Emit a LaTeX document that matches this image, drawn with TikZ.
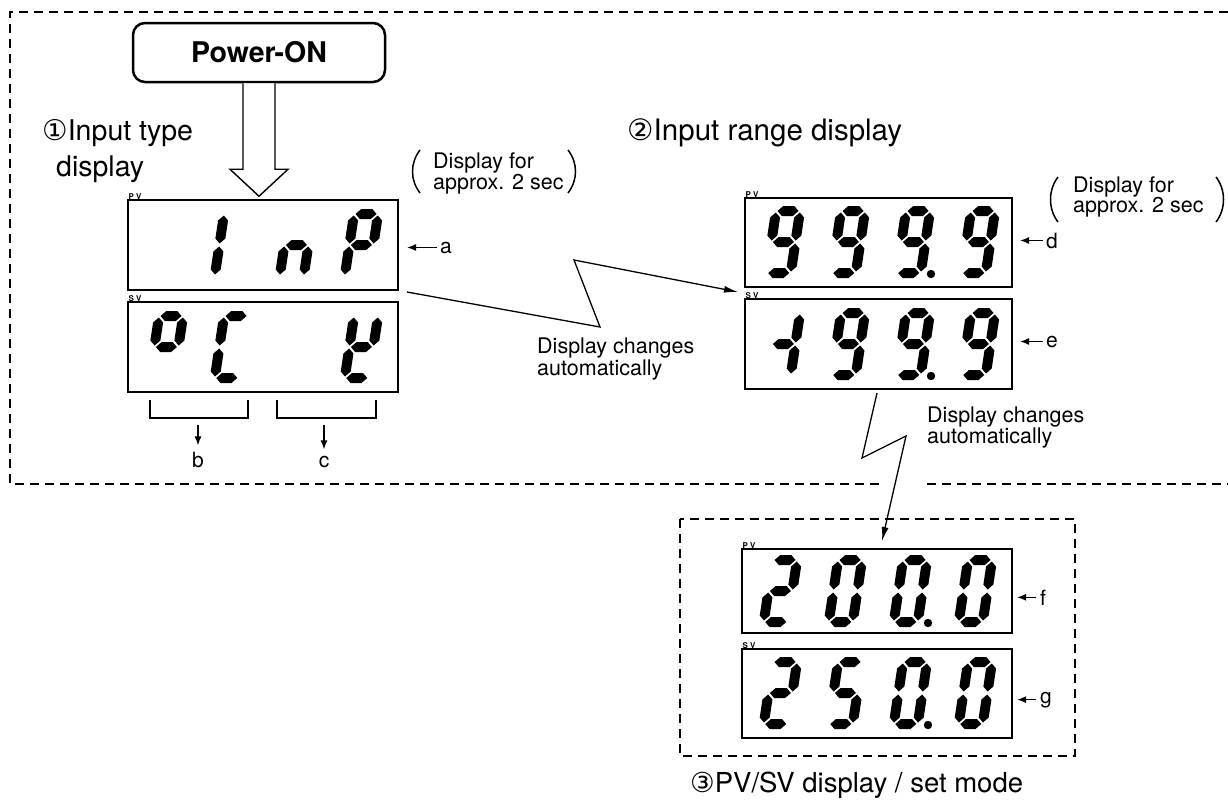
\documentclass[tikz,border=0pt]{standalone}
\usepackage{fontspec}
\setmainfont{TeX Gyre Heros}
\newfontfamily\dvs{DejaVu Sans}
\usetikzlibrary{arrows.meta,calc}
\newcommand\Sega{\fill (6.5,5) -- (11.5,0) -- (22.5,0) -- (27.5,5) -- (22.5,10) -- (11.5,10) -- cycle;}
\newcommand\Segg{\fill (6.5,36) -- (11.5,31) -- (22.5,31) -- (27.5,36) -- (22.5,41) -- (11.5,41) -- cycle;}
\newcommand\Segd{\fill (6.5,67) -- (11.5,62) -- (22.5,62) -- (27.5,67) -- (22.5,72) -- (11.5,72) -- cycle;}
\newcommand\Segf{\fill (5,6.5) -- (10,11.5) -- (10,29.5) -- (5,34.5) -- (0,29.5) -- (0,11.5) -- cycle;}
\newcommand\Sege{\fill (5,37.5) -- (10,42.5) -- (10,60.5) -- (5,65.5) -- (0,60.5) -- (0,42.5) -- cycle;}
\newcommand\Segb{\fill (29,6.5) -- (34,11.5) -- (34,29.5) -- (29,34.5) -- (24,29.5) -- (24,11.5) -- cycle;}
\newcommand\Segc{\fill (29,37.5) -- (34,42.5) -- (34,60.5) -- (29,65.5) -- (24,60.5) -- (24,42.5) -- cycle;}
\newcommand\Digit[3]{\begin{scope}[shift={(#1+10.8,#2)},xslant=0.15]\foreach \s in {#3}{\csname Seg\s\endcsname}\end{scope}}
\newcommand\DecPt[2]{\fill (#1+40,#2+68) circle[radius=4.2pt];}
\begin{document}
\begin{tikzpicture}[x=1pt,y=-1pt,
  dispbox/.style={draw, line width=1.4pt, minimum width=270pt, minimum height=90pt, anchor=north west, inner sep=0pt, outer sep=0pt},
  dframe/.style={line width=1.8pt, dash pattern=on 9pt off 6pt},
  head/.style={font=\fontsize{28.5}{32}\selectfont, inner sep=0pt, anchor=base west},
  note/.style={font=\fontsize{21.5}{24}\selectfont, inner sep=0pt, anchor=base west},
  lbl/.style={font=\fontsize{21}{24}\selectfont, inner sep=0pt},
  tinylbl/.style={font=\fontsize{8}{8}\bfseries\selectfont, inner sep=0.5pt, anchor=south west},
  smallarrow/.style={line width=1.5pt, -{Latex[length=9pt,width=7pt]}},
  zigarrow/.style={line width=1.3pt, -{Latex[length=14pt,width=7pt]}},
  paren/.style={line width=1.5pt},
  hollow/.style={line width=1.4pt, fill=white}]
\useasboundingbox (0,0) rectangle (1228,803);

% frames
\draw[dframe] (1228,12) -- (10,12) -- (10,484) -- (880,484);
\draw[dframe] (927,484) -- (1228,484);
\draw[dframe] (680,519) rectangle (1075,756);

% Power-ON
\node[draw, line width=2.5pt, rounded corners=12pt, minimum width=252pt, minimum height=59pt,
  font=\fontsize{28.5}{32}\selectfont\bfseries] (pon) at (259,52.5) {Power-ON};

% displays
\node[dispbox] (pv1) at (128,200) {};
\node[dispbox] (sv1) at (128,302) {};
\node[dispbox, minimum width=267pt, minimum height=89pt] (pv2) at (745,198) {};
\node[dispbox, minimum width=267pt, minimum height=90pt] (sv2) at (745,299) {};
\node[dispbox, minimum width=270pt, minimum height=84pt] (pv3) at (742,549) {};
\node[dispbox, minimum width=270pt, minimum height=89pt] (sv3) at (742,649) {};
\foreach \b in {pv1,pv2,pv3} \node[tinylbl] at (\b.north west) {P\hspace{2pt}V};
\foreach \b in {sv1,sv2,sv3} \node[tinylbl] at (\b.north west) {S\hspace{2pt}V};

% hollow arrow
\coordinate (hs) at (pon.south);
\draw[hollow] ($(hs)+(-16,0)$) -- ($(hs)+(-16,86)$) -- ($(hs)+(-29,86)$) -- ($(hs)+(0,113)$)
  -- ($(hs)+(29,86)$) -- ($(hs)+(16,86)$) -- ($(hs)+(16,0)$);

% digits display 1
\Digit{209}{209}{e,f}
\Digit{274}{209}{c,e,g}
\Digit{339}{209}{a,b,e,f,g}
\Digit{144}{311}{a,b,f,g}
\Digit{209}{311}{a,d,e,f}
\Digit{339}{311}{b,d,e,f,g}
% digits display 2
\foreach \L in {761,826,891,956} {\Digit{\L}{206}{a,b,c,d,f,g}}
\DecPt{891}{206}
\Digit{761}{308}{b,c,g}
\foreach \L in {826,891,956} {\Digit{\L}{308}{a,b,c,d,f,g}}
\DecPt{891}{308}
% digits display 3
\Digit{758}{555}{a,b,g,e,d}
\foreach \L in {823,888,953} {\Digit{\L}{555}{a,b,c,d,e,f}}
\DecPt{888}{555}
\Digit{758}{657}{a,b,g,e,d}
\Digit{823}{657}{a,f,g,c,d}
\foreach \L in {888,953} {\Digit{\L}{657}{a,b,c,d,e,f}}
\DecPt{888}{657}

% headings
\node[head] (h1) at (42,140) {{\dvs ①}Input type};
\node[head] (h1b) at (56,176) {display};
\node[head, font=\fontsize{29.5}{32}\selectfont] (h2) at (627,140) {{\dvs ②}Input range display};
\node[head, font=\fontsize{27.5}{32}\selectfont] (h3) at (690,792) {{\dvs ③}PV/SV display / set mode};

% paren notes
\node[note] (n1a) at (433,168) {Display for};
\node[note] (n1b) at (433,189) {approx. 2 sec};
\draw[paren] (420,150) .. controls (410,163) and (410,180) .. (420,193);
\draw[paren] (568,150) .. controls (578,163) and (578,180) .. (568,193);
\node[note] (n2a) at (1073,192) {Display for};
\node[note] (n2b) at (1073,212) {approx. 2 sec};
\draw[paren] (1058,177) .. controls (1048,190) and (1048,209) .. (1058,222);
\draw[paren] (1216,177) .. controls (1226,190) and (1226,209) .. (1216,222);

% change notes
\node[note] (c1a) at (537,353) {Display changes};
\node[note] (c1b) at (537,375) {automatically};
\node[note] (c2a) at (927,422) {Display changes};
\node[note] (c2b) at (927,443) {automatically};

% side labels
\node[lbl, anchor=base west] (la) at (440,253) {a};
\node[lbl, anchor=base west] (ld) at (1046,248) {d};
\node[lbl, anchor=base west] (le) at (1046,347) {e};
\node[lbl, anchor=base west] (lf) at (1040,605) {f};
\node[lbl, anchor=base west] (lg) at (1040,703) {g};
\draw[smallarrow] ($(la.west)+(-3,0)$) -- ($(la.west -| pv1.east)+(9,0)$);
\draw[smallarrow] ($(ld.west)+(-3,0)$) -- ($(ld.west -| pv2.east)+(8,0)$);
\draw[smallarrow] ($(le.west)+(-3,0)$) -- ($(le.west -| sv2.east)+(8,0)$);
\draw[smallarrow] ($(lf.west)+(-4,0)$) -- ($(lf.west -| pv3.east)+(5,0)$);
\draw[smallarrow] ($(lg.west)+(-4,0)$) -- ($(lg.west -| sv3.east)+(5,0)$);

% brackets b, c
\draw[line width=1.3pt] (150,400) -- (150,418) -- (248,418) -- (248,400);
\draw[line width=1.3pt] (277,400) -- (277,418) -- (376,418) -- (376,400);
\node[lbl, anchor=base] (lb) at (198,467) {b};
\node[lbl, anchor=base] (lc) at (324,467) {c};
\draw[smallarrow] (198,425) -- ($(lb.north)+(0,-6)$);
\draw[smallarrow] (324,425) -- ($(lc.north)+(0,-6)$);

% lightning connectors
\coordinate (z1a) at (407,292);
\coordinate (z1b) at (600,327);
\coordinate (z1c) at (574,260);
\coordinate (z1d) at (738,292);
\draw[zigarrow] (z1a) -- (z1b) -- (z1c) -- (z1d);
\coordinate (z2a) at (877,393);
\coordinate (z2b) at (862,458);
\coordinate (z2c) at (906,436);
\coordinate (z2d) at (882,541);
\draw[zigarrow] (z2a) -- (z2b) -- (z2c) -- (z2d);
\end{tikzpicture}
\end{document}
